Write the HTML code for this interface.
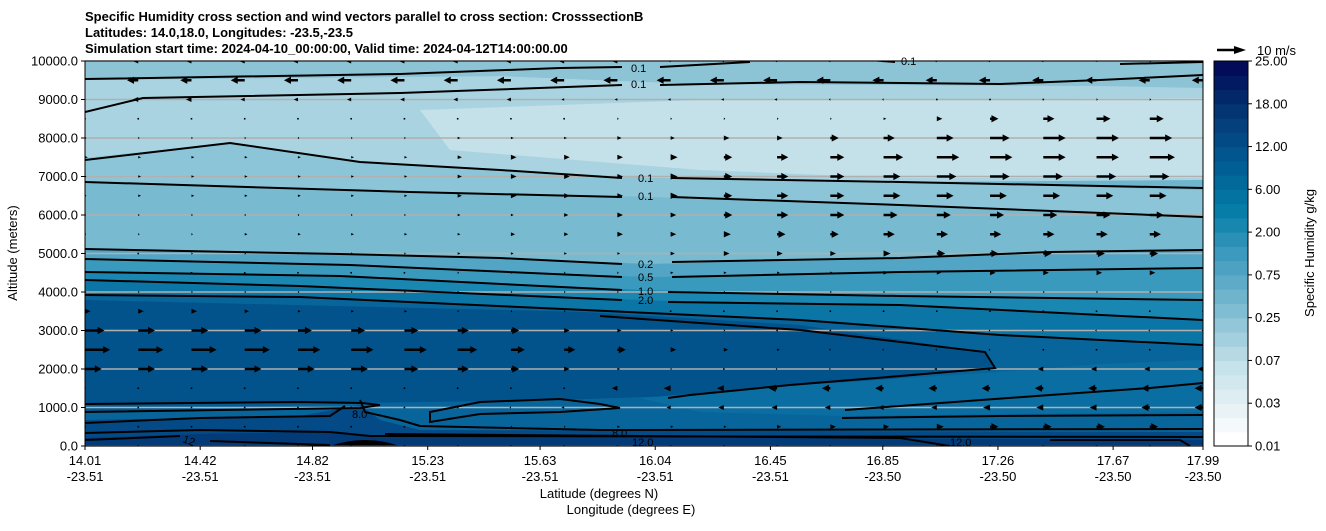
<!DOCTYPE html>
<html><head><meta charset="utf-8"><style>
body{margin:0;background:#fff;font-family:"Liberation Sans",sans-serif;}
svg text{font-family:"Liberation Sans",sans-serif;}
</style></head><body>
<svg id="c" width="1326" height="526" viewBox="0 0 1326 526" xmlns="http://www.w3.org/2000/svg">
<g font-size="13" font-weight="bold">
<text x="85" y="21">Specific Humidity cross section and wind vectors parallel to cross section: CrosssectionB</text>
<text x="85" y="37">Latitudes: 14.0,18.0, Longitudes: -23.5,-23.5</text>
<text x="85" y="53">Simulation start time: 2024-04-10_00:00:00, Valid time: 2024-04-12T14:00:00.00</text>
</g>
<defs><clipPath id="pc"><rect x="85" y="61" width="1118" height="385"/></clipPath></defs>
<g clip-path="url(#pc)">
<rect x="85" y="61" width="1118" height="385" fill="#6fb5cd"/>
<path d="M85,61H1203V90L1100,86L700,84L500,76L85,80Z" fill="#8cc4d6"/>
<path d="M85,80L500,76L700,84L1100,86L1203,88V180L900,182L648,178L360,162L230,143L85,158Z" fill="#a9d3e0"/>
<path d="M420,110L700,100L1203,98V178L900,178L700,170L450,150Z" fill="#c4e1e9"/>
<path d="M85,158L230,143L360,162L648,178L900,182L1203,190V218L900,205L648,197L410,192L85,182Z" fill="#8cc5d7"/>
<path d="M85,182L410,192L648,197L900,205L1203,218V252L900,258L648,264L500,258L340,254L85,249Z" fill="#78bad0"/>
<path d="M85,249L340,254L500,258L648,264L900,258L1203,250V268L900,272L648,277L350,265L85,259Z" fill="#52a5c4"/>
<path d="M85,259L350,265L648,277L900,272L1203,268V300L900,296L648,290L340,276L85,272Z" fill="#3a9abd"/>
<path d="M85,272L340,276L648,290L900,296L1203,300V320L900,305L648,300L300,286L85,280Z" fill="#1a87b3"/>
<path d="M85,280L300,286L648,300L900,305L1203,320V345L1000,335L800,320L585,310L300,297L85,295Z" fill="#0b76a6"/>
<path d="M85,295L300,297L585,310L800,320L1000,335L1203,345V446H85Z" fill="#08659c"/>
<path d="M85,300L585,312L800,325L985,352L995,366L900,378L700,395L560,400L360,403L85,404Z" fill="#02528c"/>
<path d="M640,398L800,385L1000,372L1100,364L1203,360V412L1000,414L840,416L700,412Z" fill="#0a6ea3"/>
<path d="M85,404L360,403L85,412Z" fill="#045a92"/>
<path d="M85,420L300,416L360,405L380,420L420,430L1203,432V446H85Z" fill="#034a86"/>
<path d="M85,438L200,434L330,432L380,436L1203,440V446H85Z" fill="#033a78"/>
<path d="M330,446Q365,434 400,446Z" fill="#000"/>
</g>
<g id="grid" stroke="#b0b0b0" stroke-width="1.5"></g>
<g clip-path="url(#pc)" fill="none" stroke="#000" stroke-width="2">
<path d="M85,79L400,74L560,68L622,67M660,67L750,62M870,60L895,62M1120,64L1203,62"/>
<path d="M85,112L143,98L400,93L622,85M660,85L800,82L1000,84L1100,80L1203,75"/>
<path d="M85,160L230,143L360,162L500,170L622,178M672,178L900,182L1203,188"/>
<path d="M85,182L410,192L622,197M672,197L900,205L1203,217"/>
<path d="M85,249L340,254L500,258L622,264M672,262L900,258L1050,252L1203,250"/>
<path d="M85,259L350,265L622,277M672,277L900,272L1203,268"/>
<path d="M85,272L340,276L622,290M668,292L900,296L1203,300"/>
<path d="M85,280L300,286L622,300M668,302L900,305L1203,320"/>
<path d="M85,295L300,297L585,310L800,320L1000,335L1203,345"/>
<path d="M600,316L800,330L985,352L995,368L900,376L790,385L690,395L668,398"/>
<path d="M845,410L900,406L1050,395L1150,388L1203,383"/>
<path d="M842,418L1000,416L1203,415"/>
<path d="M85,404L300,402L362,403L380,405L360,408L85,412"/>
<path d="M85,423L200,418L330,416L345,406M360,400L365,412L400,420L420,426L600,430L1203,429"/>
<path d="M85,433L200,430L330,432L370,436L1203,437"/>
<path d="M85,440L180,436M210,441L330,445M385,434L900,438L950,446M1050,440L1180,440L1190,446"/>
<path d="M430,412L480,402L560,399L600,404L620,408L560,412L480,414L430,422Z"/>
</g>
<g font-size="11" fill="#000">
<text x="631" y="72">0.1</text><text x="631" y="88">0.1</text><text x="901" y="65">0.1</text>
<text x="638" y="182">0.1</text><text x="638" y="200">0.1</text>
<text x="638" y="268">0.2</text><text x="638" y="281">0.5</text><text x="638" y="295">1.0</text><text x="638" y="304">2.0</text>
<text x="352" y="418">8.0</text><text x="612" y="437">8.0</text><text x="632" y="446">12.0</text>
<text x="182" y="442" transform="rotate(20 182 442)">12</text><text x="950" y="446">12.0</text>
</g>
<g id="quiver" clip-path="url(#pc)"></g>
<rect x="85" y="61" width="1118" height="385" fill="none" stroke="#000" stroke-width="1"/>
<g id="axes" font-size="13"></g>
<text x="17" y="253" font-size="13" text-anchor="middle" transform="rotate(-90 17 253)">Altitude (meters)</text>
<text x="599" y="498" font-size="13" text-anchor="middle">Latitude (degrees N)</text>
<text x="631" y="514" font-size="13" text-anchor="middle">Longitude (degrees E)</text>
<g>
<line x1="1217" y1="50" x2="1236" y2="50" stroke="#000" stroke-width="2.5"/>
<path d="M1234,46L1246,50L1234,54Z" fill="#000"/>
<text x="1257" y="55" font-size="13">10 m/s</text>
</g>
<g id="cbar"></g>
<text x="1314" y="253" font-size="13" text-anchor="middle" transform="rotate(-90 1314 253)">Specific Humidity g/kg</text>
</svg>
<script>
const NS="http://www.w3.org/2000/svg";
const xTickLat=["14.01","14.42","14.82","15.23","15.63","16.04","16.45","16.85","17.26","17.67","17.99"];
const xTickLon=["-23.51","-23.51","-23.51","-23.51","-23.51","-23.51","-23.51","-23.50","-23.50","-23.50","-23.50"];
const xTickVal=[14.01,14.42,14.82,15.23,15.63,16.04,16.45,16.85,17.26,17.67,17.99];
const yTicks=[0,1000,2000,3000,4000,5000,6000,7000,8000,9000,10000];
const cbarTicks=["0.01","0.03","0.07","0.25","0.75","2.00","6.00","12.00","18.00","25.00"];
const altitudes=[0,500,1000,1500,2000,2500,3000,3500,4000,4500,5000,5500,6000,6500,7000,7500,8000,8500,9000,9500,10000];
const windU=[
[0,0,0,0,0,0,0,0,0,0,0,0,0,0,0,0,0,0,0,0,0,0],
[0.3,0.3,0.3,0.3,0.3,0.3,0.3,0.3,0.5,0.5,1,1,1,1.5,2,2,2.5,3,3,3,3,3],
[0.3,0.3,0.3,0.3,0.3,0.3,0.3,0.3,-0.5,-1,-1,-1.5,-2,-2,-2,-2,-2,-2.5,-2.5,-2.5,-3,-3],
[0.3,0.3,0.3,0.3,0.3,0.3,0.3,0.3,0.3,0.3,-2,-2.5,-2.5,-3,-3,-3,-3,-3,-3,-3,-3,-3],
[6,6,6,6,6,6,5,4,3,2,1,0.5,0.3,-0.5,-0.5,-1,-1,-1.5,-2,-2,-2,-2],
[9,9,9,9,8,8,8,7,5,4,3,2,1.5,1,-0.5,-0.5,-0.5,-0.5,-0.3,-0.3,-0.3,-0.3],
[7,6,6,6,5,5,5,4,3,2,1.5,1,0.5,0.3,-0.3,-0.3,-0.5,-0.5,-0.5,-0.5,-0.5,-0.5],
[2,2,2,1.5,1,1,1,0.5,0.5,0.5,0.3,0.3,0.3,0.3,-0.3,-0.3,-0.3,-0.3,-0.3,-0.3,-0.3,-0.3],
[0.5,0.5,0.5,0.5,0.5,0.5,0.5,0.5,0.5,0.5,0.5,0.5,0.5,0.5,0.5,0.5,0.5,0.5,0.5,0.5,0.5,1],
[0.3,0.3,0.3,0.3,0.3,0.3,0.3,0.5,0.5,0.5,0.5,1,1,1,1,1.5,1.5,2,2,2,2,2],
[0.3,0.3,0.5,0.5,0.5,0.5,0.5,1,1,1,1,1.5,2,2,2,2.5,3,3,3,3,3,3],
[0.3,0.5,0.5,1,1,1,1,1,1.5,1.5,2,2,2.5,3,3,4,4,4,4,4,4,4],
[0.3,0.5,0.5,0.5,0.5,0.5,0.5,1,1,1.5,2,2,3,4,5,5,5,5,5,5,5,5],
[0.5,1,1,1,1,1,1,1.5,2,2,2,2.5,3,4,5,6,6,6,6,6,6,6],
[0.5,1,1,1,1,1,1,1.5,2,2,2,2.5,3,4,5,6,7,7,7,7,7,7],
[1,1,1,1,1,1,1,1.5,2,2,2,2.5,3,4,5,7,8,8,8,8,9,9],
[0.5,0.5,0.5,0.5,0.5,0.5,0.5,1,1,1,1.5,1.5,2,2,3,4,6,7,8,8,8,8],
[0.3,0.3,0.3,0.3,0.3,0.3,0.3,0.3,0.3,0.3,0.5,0.5,0.5,0.5,0.5,1,2,3,4,5,5,5],
[-2,-2,-2,-1.5,-1.5,-1.5,-1.5,-1.5,-1.5,-1,-1,-1,-1,-1,-0.5,-0.5,-0.3,-0.3,0.3,0.5,0.5,0.5],
[-4,-4,-4,-5,-5,-5,-5,-5,-5,-5,-5,-5,-5,-5,-5,-4,-4,-4,-4,-4,-4,-4],
[-2,-2,-2,-2,-2,-2,-2,-2,-2,-2,-2,-1,-1,-1,-1,-1,-1,-1,-1,0,1,2]
];
const X0=85,X1=1203,Y0=446,Y1=61;
function xScale(lat){return X0+(lat-14.01)/(17.99-14.01)*(X1-X0);}
function yScale(alt){return Y0-alt/10000*(Y0-Y1);}
function colX(i){return X0+i*(X1-X0)/21;}
function mk(tag,attrs,parent){const e=document.createElementNS(NS,tag);for(const k in attrs)e.setAttribute(k,attrs[k]);parent.appendChild(e);return e;}
const grid=document.getElementById('grid');
yTicks.forEach(v=>{const l=mk('line',{x1:X0,x2:X1,y1:yScale(v),y2:yScale(v)},grid);

});
const axes=document.getElementById('axes');
yTicks.forEach(v=>{const y=yScale(v);
const t=mk('line',{x1:X0-4,x2:X0,y1:y,y2:y,stroke:'#000'},axes);


const tx=mk('text',{x:X0-7,y:y+4.5,'text-anchor':'end'},axes);tx.textContent=v.toFixed(1);

});
xTickVal.forEach((v,i)=>{const x=xScale(v);
const t=mk('line',{x1:x,x2:x,y1:Y0,y2:Y0+4,stroke:'#000'},axes);


const a=mk('text',{x:x,y:465,'text-anchor':'middle'},axes);a.textContent=xTickLat[i];


const b=mk('text',{x:x,y:481,'text-anchor':'middle'},axes);b.textContent=xTickLon[i];

});
const q=document.getElementById('quiver');
const K=2.8;
altitudes.forEach((alt,r)=>{const y=yScale(alt);windU[r].forEach((u,i)=>{
const x=colX(i);const L=Math.abs(u)*K;const s=u<0?-1:1;let d;
if(L<1){d=`M${x-0.8},${y-0.8}h1.6v1.6h-1.6Z`;}
else if(L<8){const h=Math.max(1.2,L*0.45);d=`M${x},${y-h}L${x+s*L},${y}L${x},${y+h}Z`;}
else{const hl=7,hw=3.6,sw=1.3;const xb=x+s*(L-hl);d=`M${x},${y-sw}L${xb},${y-sw}L${xb},${y-hw}L${x+s*L},${y}L${xb},${y+hw}L${xb},${y+sw}L${x},${y+sw}Z`;}
const p=mk('path',{d:d,fill:'#000'},q);

});});
const cb=document.getElementById('cbar');
const stops=[[0,[255,255,255]],[0.07,[235,244,247]],[0.2,[196,225,233]],[0.35,[126,187,209]],[0.5,[60,154,190]],[0.62,[3,124,166]],[0.75,[2,90,146]],[0.88,[3,55,116]],[1,[2,12,88]]];
function cmap(t){for(let k=1;k<stops.length;k++){if(t<=stops[k][0]){const a=stops[k-1],b=stops[k];const f=(t-a[0])/(b[0]-a[0]);return 'rgb('+a[1].map((c,j)=>Math.round(c+(b[1][j]-c)*f)).join(',')+')';}}return 'rgb(2,12,88)';}
const N=27,CX=1214,CW=34,CT=61,CB=446;const bh=(CB-CT)/N;
for(let k=0;k<N;k++){const r=mk('rect',{x:CX,y:CB-(k+1)*bh,width:CW,height:bh+0.6,fill:cmap(k/(N-1))},cb);

}
mk('rect',{x:CX,y:CT,width:CW,height:CB-CT,fill:'none',stroke:'#000'},cb);
cbarTicks.forEach((t,k)=>{const y=CB-k*(CB-CT)/(cbarTicks.length-1);
mk('line',{x1:CX+CW,x2:CX+CW+4,y1:y,y2:y,stroke:'#000'},cb);
const tx=mk('text',{x:CX+CW+7,y:y+4.5,'font-size':13},cb);tx.textContent=t;

});
</script>
</body></html>
